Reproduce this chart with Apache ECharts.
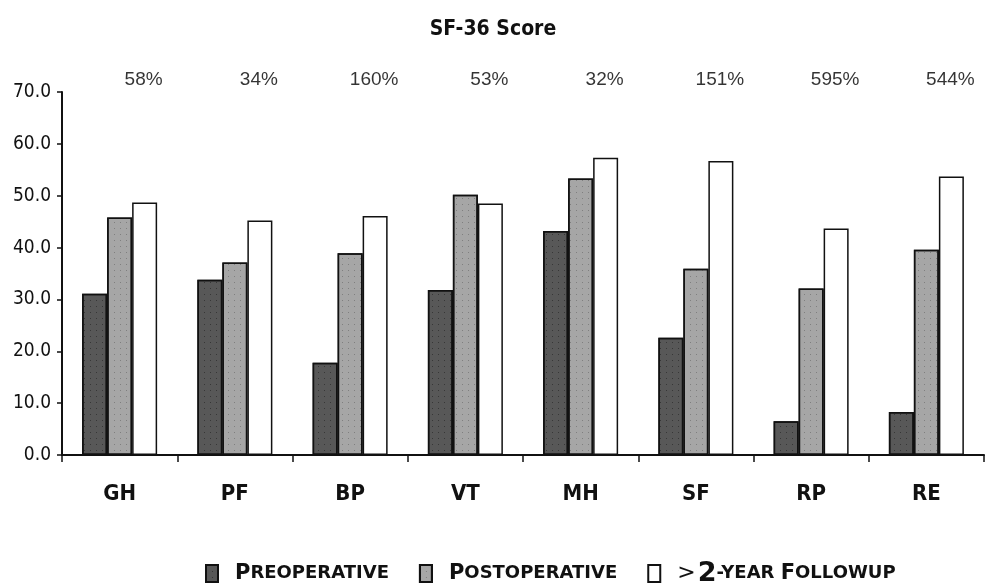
<!DOCTYPE html>
<html>
<head>
<meta charset="utf-8">
<title>SF-36 Score</title>
<script src="https://cdn.jsdelivr.net/npm/echarts@6/dist/echarts.min.js"></script>
<style>
  html, body { margin: 0; padding: 0; background: #ffffff; }
  #chart { width: 986px; height: 584px; }
</style>
</head>
<body>
<div id="chart"></div>
<script>
// SF-36 domains
const categories = ['GH', 'PF', 'BP', 'VT', 'MH', 'SF', 'RP', 'RE'];
// Mean scores per time point
const preoperative = [31.1, 33.8, 17.8, 31.8, 43.2, 22.6, 6.5, 8.3];
const postoperative = [45.8, 37.1, 38.9, 50.2, 53.3, 35.9, 32.1, 39.6];
const followup = [48.7, 45.2, 46.1, 48.5, 57.3, 56.7, 43.7, 53.7];
// Improvement from preoperative to follow-up
const improvement = ['58%', '34%', '160%', '53%', '32%', '151%', '595%', '544%'];
// Value axis range
const yMin = 0, yMax = 70, yStep = 10;

const narrow = "'Liberation Sans Narrow', 'DejaVu Sans Condensed', 'Liberation Sans', sans-serif";
const sans = "'Liberation Sans', Arial, sans-serif";
const legendFont = "'DejaVu Sans', sans-serif";

const dotDecal = (color) => ({
  symbol: 'rect',
  symbolSize: 1,
  dashArrayX: [1, 5],
  dashArrayY: [1, 5],
  color: color
});

function barSeries(name, data, fill, decalColor) {
  return {
    name: name,
    type: 'bar',
    data: data,
    barWidth: 25,
    barGap: '0%',
    itemStyle: {
      color: fill,
      borderColor: '#111',
      borderWidth: 1.5,
      decal: decalColor ? dotDecal(decalColor) : undefined
    },
    emphasis: { disabled: true }
  };
}

const chart = echarts.init(document.getElementById('chart'), null, { renderer: 'canvas' });

// Small-caps look for the legend text
const smallCaps = {
  big: { fontFamily: legendFont, fontWeight: 'bold', fontSize: 21, color: '#111' },
  sm: { fontFamily: legendFont, fontWeight: 'bold', fontSize: 18, color: '#111' },
  gt: { fontFamily: legendFont, fontWeight: 'normal', fontSize: 22, color: '#111', padding: [0, 2, 0, 0] },
  two: { fontFamily: legendFont, fontWeight: 'bold', fontSize: 27, color: '#111' }
};

const legendLabels = {
  'PREOPERATIVE': '{big|P}{sm|REOPERATIVE}',
  'POSTOPERATIVE': '{big|P}{sm|OSTOPERATIVE}',
  '>2-YEAR FOLLOWUP': '{gt|>}{two|2}{sm|-YEAR }{big|F}{sm|OLLOWUP}'
};

chart.setOption({
  backgroundColor: '#ffffff',
  animation: false,
  aria: { enabled: false },
  title: {
    text: 'SF-36 Score',
    left: 'center',
    top: 14,
    textStyle: { fontFamily: narrow, fontWeight: 'bold', fontSize: 21, color: '#111' }
  },
  legend: {
    top: 555,
    left: 200,
    icon: 'rect',
    itemWidth: 12,
    itemHeight: 17,
    itemGap: 30,
    data: ['PREOPERATIVE', 'POSTOPERATIVE', '>2-YEAR FOLLOWUP'],
    formatter: (name) => legendLabels[name],
    textStyle: { rich: smallCaps, padding: [0, 0, 0, 12] },
    selectedMode: false
  },
  grid: { left: 62, right: 2, top: 92, bottom: 129, containLabel: false },
  xAxis: {
    type: 'category',
    data: categories,
    axisLine: { lineStyle: { color: '#111', width: 2 } },
    axisTick: { show: true, length: 7, lineStyle: { color: '#111', width: 1.5 } },
    axisLabel: { fontFamily: narrow, fontWeight: 'bold', fontSize: 22, color: '#111', margin: 28 },
    splitLine: { show: false }
  },
  yAxis: {
    type: 'value',
    min: yMin,
    max: yMax,
    interval: yStep,
    axisLine: { show: true, lineStyle: { color: '#111', width: 2 } },
    axisTick: { show: true, length: 5, lineStyle: { color: '#111', width: 1.5 } },
    axisLabel: {
      fontFamily: narrow, fontSize: 19, color: '#111', margin: 11,
      formatter: (v) => v.toFixed(1)
    },
    splitLine: { show: false }
  },
  series: [
    barSeries('PREOPERATIVE', preoperative, '#585858', 'rgba(30,30,30,0.55)'),
    barSeries('POSTOPERATIVE', postoperative, '#a6a6a6', 'rgba(80,80,80,0.45)'),
    barSeries('>2-YEAR FOLLOWUP', followup, '#ffffff', null),
    {
      name: 'improvement',
      type: 'scatter',
      data: categories.map(() => yMax),
      symbolSize: 0,
      silent: true,
      clip: false,
      label: {
        show: true,
        position: 'top',
        distance: 3,
        offset: [24, 0],
        formatter: (p) => improvement[p.dataIndex],
        fontFamily: sans,
        fontSize: 19,
        color: '#000'
      }
    }
  ]
});
</script>
</body>
</html>
